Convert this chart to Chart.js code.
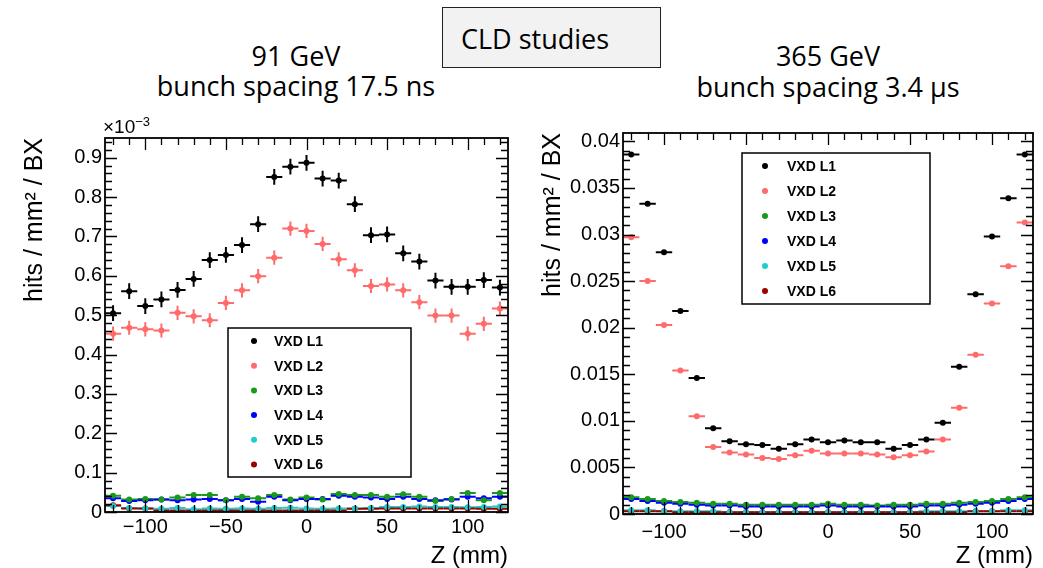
<!DOCTYPE html>
<html>
<head>
<meta charset="utf-8">
<script src="https://cdn.jsdelivr.net/npm/chart.js@4.4.1/dist/chart.umd.min.js"></script>
<style>
  html, body { margin: 0; padding: 0; background: #fff; }
  body { width: 1043px; height: 568px; position: relative; overflow: hidden; }
  .hdr { position: absolute; font-family: 'Open Sans', sans-serif; font-size: 27px; line-height: 30px; color: #000; text-align: center; white-space: nowrap; }
  .box { position: absolute; left: 442px; top: 7px; width: 219px; height: 61px; box-sizing: border-box; border: 1px solid #222; background: #f2f2f2; }
  canvas { position: absolute; }
  .expo { position: absolute; left: 103px; top: 117px; font-family: 'Liberation Sans', sans-serif; font-size: 19px; line-height: 20px; }
  .expo span { font-size: 13px; position: relative; top: -7px; }
</style>
</head>
<body>
<div class="box"></div>
<div class="hdr" style="left:461px; top:24px; text-align:left;">CLD studies</div>
<div class="hdr" style="left:0; width:592px; top:41px;">91 GeV</div>
<div class="hdr" style="left:0; width:592px; top:71px;">bunch spacing 17.5 ns</div>
<div class="hdr" style="left:613px; width:430px; top:41px;">365 GeV</div>
<div class="hdr" style="left:613px; width:430px; top:72px;">bunch spacing 3.4 µs</div>

<canvas id="c91" width="525" height="458" style="left:0; top:110px;"></canvas>
<canvas id="c365" width="513" height="458" style="left:530px; top:110px;"></canvas>
<div class="expo">×10<span>−3</span></div>

<script>
'use strict';

// bin centres along Z (mm), 10 mm bins
const zBins = [-120, -110, -100, -90, -80, -70, -60, -50, -40, -30, -20, -10, 0,
               10, 20, 30, 40, 50, 60, 70, 80, 90, 100, 110, 120];
const binHalfWidth = 5;

const layerNames = ['VXD L1', 'VXD L2', 'VXD L3', 'VXD L4', 'VXD L5', 'VXD L6'];
const layerColors = ['#000000', '#ff6b6b', '#1a9a1a', '#0000ff', '#22cccc', '#990000'];

// 91 GeV, hits / mm^2 / BX in units of 1e-3
const hits91_L1 = [0.505, 0.561, 0.523, 0.540, 0.564, 0.592, 0.640, 0.653, 0.678, 0.731, 0.851, 0.877, 0.887,
                   0.847, 0.842, 0.782, 0.703, 0.705, 0.657, 0.636, 0.588, 0.572, 0.572, 0.589, 0.570];
const hits91_L2 = [0.453, 0.468, 0.464, 0.461, 0.506, 0.497, 0.487, 0.531, 0.563, 0.599, 0.646, 0.720, 0.714,
                   0.681, 0.642, 0.614, 0.574, 0.578, 0.563, 0.533, 0.499, 0.499, 0.453, 0.478, 0.517];
const hits91_L3 = [0.041, 0.032, 0.033, 0.032, 0.037, 0.043, 0.043, 0.030, 0.039, 0.035, 0.043, 0.032, 0.037,
                   0.032, 0.046, 0.043, 0.043, 0.039, 0.045, 0.039, 0.028, 0.033, 0.048, 0.030, 0.048];
const hits91_L4 = [0.035, 0.028, 0.030, 0.032, 0.030, 0.032, 0.033, 0.030, 0.033, 0.026, 0.039, 0.030, 0.033,
                   0.033, 0.041, 0.039, 0.037, 0.033, 0.039, 0.033, 0.030, 0.032, 0.039, 0.035, 0.039];
const hits91_L5 = [0.015, 0.010, 0.009, 0.008, 0.010, 0.007, 0.009, 0.008, 0.009, 0.008, 0.010, 0.011, 0.009,
                   0.008, 0.009, 0.009, 0.010, 0.013, 0.013, 0.014, 0.013, 0.013, 0.012, 0.013, 0.014];
const hits91_L6 = [0.017, 0.009, 0.009, 0.004, 0.004, 0.003, 0.004, 0.004, 0.004, 0.004, 0.004, 0.004, 0.004,
                   0.004, 0.004, 0.008, 0.008, 0.009, 0.009, 0.009, 0.009, 0.009, 0.009, 0.008, 0.008];
const err91 = [0.020, 0.018, 0.004, 0.004, 0.003, 0.003];

// 365 GeV, hits / mm^2 / BX
const hits365_L1 = [0.0386, 0.0333, 0.0281, 0.0218, 0.0146, 0.0092, 0.0078, 0.0075, 0.0074, 0.0070, 0.0075, 0.0080, 0.0077,
                    0.0079, 0.0077, 0.0077, 0.0070, 0.0074, 0.0080, 0.0098, 0.0158, 0.0236, 0.0298, 0.0339, 0.0386];
const hits365_L2 = [0.0297, 0.0250, 0.0203, 0.0154, 0.0105, 0.0072, 0.0066, 0.0064, 0.0060, 0.0059, 0.0063, 0.0068, 0.0065,
                    0.0065, 0.0065, 0.0064, 0.0061, 0.0063, 0.0067, 0.0080, 0.0114, 0.0171, 0.0226, 0.0266, 0.0313];
const hits365_L3 = [0.0018, 0.0016, 0.0014, 0.0013, 0.0012, 0.0011, 0.0011, 0.0010, 0.0010, 0.0010, 0.0010, 0.0010, 0.0011,
                    0.0010, 0.0010, 0.0009, 0.0010, 0.0010, 0.0011, 0.0011, 0.0012, 0.0013, 0.0014, 0.0016, 0.0018];
const hits365_L4 = [0.0016, 0.0014, 0.0012, 0.0011, 0.0010, 0.0009, 0.0009, 0.0008, 0.0008, 0.0008, 0.0008, 0.0008, 0.0009,
                    0.0008, 0.0008, 0.0008, 0.0008, 0.0008, 0.0009, 0.0009, 0.0010, 0.0011, 0.0012, 0.0014, 0.0016];
const hits365_L5 = [0.0004, 0.0004, 0.0003, 0.0003, 0.0003, 0.0003, 0.0002, 0.0002, 0.0002, 0.0002, 0.0002, 0.0002, 0.0002,
                    0.0002, 0.0002, 0.0002, 0.0002, 0.0002, 0.0003, 0.0003, 0.0003, 0.0003, 0.0003, 0.0004, 0.0004];
const hits365_L6 = [0.0003, 0.0003, 0.0003, 0.0002, 0.0002, 0.0002, 0.0002, 0.0002, 0.0002, 0.0002, 0.0002, 0.0002, 0.0002,
                    0.0002, 0.0002, 0.0002, 0.0002, 0.0002, 0.0002, 0.0002, 0.0002, 0.0003, 0.0003, 0.0003, 0.0003];
const err365 = [0.0001, 0.0001, 0.00005, 0.00005, 0.00003, 0.00003];

// tick labels
const zTicks = [-100, -50, 0, 50, 100];
const yTicks91 = [0, 0.1, 0.2, 0.3, 0.4, 0.5, 0.6, 0.7, 0.8, 0.9];
const yTicks365 = [0, 0.005, 0.01, 0.015, 0.02, 0.025, 0.03, 0.035, 0.04];

const AXIS_FONT = "'Liberation Sans', Arial, sans-serif";

/**
 * Horizontal (bin width) and vertical error bars, ROOT style
 */
const errorBarPlugin = {
    id: 'errorBars',
    beforeDatasetsDraw(chart) {
        const { ctx, scales: { x, y } } = chart;
        ctx.save();
        ctx.beginPath();
        ctx.rect(chart.chartArea.left, chart.chartArea.top, chart.chartArea.width, chart.chartArea.height);
        ctx.clip();
        ctx.lineWidth = 2;
        chart.data.datasets.forEach((ds) => {
            ctx.strokeStyle = ds.borderColor;
            ds.data.forEach((p) => {
                const px = x.getPixelForValue(p.x);
                const py = y.getPixelForValue(p.y);
                ctx.beginPath();
                ctx.moveTo(x.getPixelForValue(p.x - binHalfWidth), py);
                ctx.lineTo(x.getPixelForValue(p.x + binHalfWidth), py);
                ctx.moveTo(px, y.getPixelForValue(p.y - ds.yErr));
                ctx.lineTo(px, y.getPixelForValue(p.y + ds.yErr));
                ctx.stroke();
            });
        });
        ctx.restore();
    }
};

/**
 * Frame with inward ticks on all four sides
 */
const rootFramePlugin = {
    id: 'rootFrame',
    afterDatasetsDraw(chart, args, opts) {
        const { ctx, chartArea: a, scales: { x, y } } = chart;
        ctx.save();
        ctx.strokeStyle = '#000';
        ctx.lineWidth = 1.8;
        ctx.strokeRect(a.left, a.top, a.width, a.height);
        ctx.lineWidth = 1.3;
        ctx.beginPath();
        // x ticks
        for (let i = Math.ceil(x.min / opts.xMinor); i * opts.xMinor <= x.max; i++) {
            const v = i * opts.xMinor;
            const px = Math.round(x.getPixelForValue(v)) + 0.5;
            const len = (i % opts.xMajorEvery === 0) ? 12 : 7;
            ctx.moveTo(px, a.bottom); ctx.lineTo(px, a.bottom - len);
            ctx.moveTo(px, a.top); ctx.lineTo(px, a.top + len);
        }
        // y ticks
        for (let i = 0; i * opts.yMinor <= y.max + 1e-12; i++) {
            const v = i * opts.yMinor;
            const py = Math.round(y.getPixelForValue(v)) + 0.5;
            const len = (i % opts.yMajorEvery === 0) ? 12 : 7;
            ctx.moveTo(a.left, py); ctx.lineTo(a.left + len, py);
            ctx.moveTo(a.right, py); ctx.lineTo(a.right - len, py);
        }
        ctx.stroke();
        ctx.restore();
    }
};

/**
 * TLegend-like box drawn inside the pad
 */
const rootLegendPlugin = {
    id: 'rootLegend',
    afterDraw(chart, args, opts) {
        const { ctx } = chart;
        const [x0, y0, x1, y1] = opts.box;
        ctx.save();
        ctx.fillStyle = '#fff';
        ctx.fillRect(x0, y0, x1 - x0, y1 - y0);
        ctx.strokeStyle = '#000';
        ctx.lineWidth = 1.5;
        ctx.strokeRect(x0, y0, x1 - x0, y1 - y0);
        ctx.font = "bold 14px " + AXIS_FONT;
        ctx.textBaseline = 'middle';
        chart.data.datasets.forEach((ds, i) => {
            const rowY = opts.firstRow + i * opts.rowStep;
            ctx.fillStyle = ds.backgroundColor;
            ctx.beginPath();
            ctx.arc(opts.markerX, rowY, 3, 0, Math.PI * 2);
            ctx.fill();
            ctx.fillStyle = '#000';
            ctx.fillText(ds.label, opts.textX, rowY + 1);
        });
        ctx.restore();
    }
};

function makeDatasets(seriesList, errs) {
    return seriesList.map((vals, i) => ({
        label: layerNames[i],
        data: zBins.map((z, j) => ({ x: z, y: vals[j] })),
        yErr: errs[i],
        borderColor: layerColors[i],
        backgroundColor: layerColors[i],
        pointRadius: 3,
        pointBorderWidth: 0,
        showLine: false
    }));
}

function fmtTick(v) {
    return String(v).replace('-', '\u2212');
}

function makeChart(canvasId, datasets, cfg) {
    return new Chart(document.getElementById(canvasId), {
        type: 'scatter',
        data: { datasets },
        plugins: [errorBarPlugin, rootFramePlugin, rootLegendPlugin],
        options: {
            responsive: false,
            animation: false,
            devicePixelRatio: 1,
            layout: { padding: { top: cfg.padTop, right: cfg.padRight, left: 0, bottom: 0 } },
            plugins: {
                legend: { display: false },
                tooltip: { enabled: false },
                rootFrame: { xMinor: 10, xMajorEvery: 5, yMinor: cfg.yMinor, yMajorEvery: cfg.yMajorEvery },
                rootLegend: cfg.legend
            },
            scales: {
                x: {
                    type: 'linear',
                    min: -125,
                    max: 125,
                    afterBuildTicks: (s) => { s.ticks = zTicks.map(v => ({ value: v })); },
                    afterFit: (s) => { s.height = cfg.xAxisHeight; },
                    grid: { display: false, drawTicks: false },
                    border: { display: false },
                    ticks: { color: '#000', font: { family: AXIS_FONT, size: 20 }, padding: cfg.xTickPad, maxRotation: 0, callback: fmtTick },
                    title: {
                        display: true, text: 'Z (mm)', align: 'end', color: '#000',
                        font: { family: AXIS_FONT, size: 24, lineHeight: 1 }, padding: { top: 0, bottom: 0 }
                    }
                },
                y: {
                    type: 'linear',
                    min: 0,
                    max: cfg.yMax,
                    afterBuildTicks: (s) => { s.ticks = cfg.yTicks.map(v => ({ value: v })); },
                    afterFit: (s) => { s.width = cfg.yAxisWidth; },
                    grid: { display: false, drawTicks: false },
                    border: { display: false },
                    ticks: { color: '#000', font: { family: AXIS_FONT, size: 20 }, padding: 3, callback: fmtTick },
                    title: {
                        display: true, text: 'hits / mm\u00b2 / BX', align: 'end', color: '#000',
                        font: { family: AXIS_FONT, size: 25, lineHeight: 1 }, padding: { top: cfg.yTitlePad, bottom: 0 }
                    }
                }
            }
        }
    });
}

makeChart('c91',
    makeDatasets([hits91_L1, hits91_L2, hits91_L3, hits91_L4, hits91_L5, hits91_L6], err91),
    {
        padTop: 28, padRight: 17, xAxisHeight: 56, yAxisWidth: 105, yTitlePad: 23, xTickPad: 3,
        yMax: 0.95, yTicks: yTicks91, yMinor: 0.02, yMajorEvery: 5,
        legend: { box: [228, 218, 411, 367], markerX: 254, textX: 274, firstRow: 231, rowStep: 24.7 }
    });

makeChart('c365',
    makeDatasets([hits365_L1, hits365_L2, hits365_L3, hits365_L4, hits365_L5, hits365_L6], err365),
    {
        padTop: 23, padRight: 10, xAxisHeight: 54, yAxisWidth: 93, yTitlePad: 11, xTickPad: 6,
        yMax: 0.0409, yTicks: yTicks365, yMinor: 0.001, yMajorEvery: 5,
        legend: { box: [212, 43, 400, 194], markerX: 235, textX: 257, firstRow: 56, rowStep: 25 }
    });
</script>
</body>
</html>
